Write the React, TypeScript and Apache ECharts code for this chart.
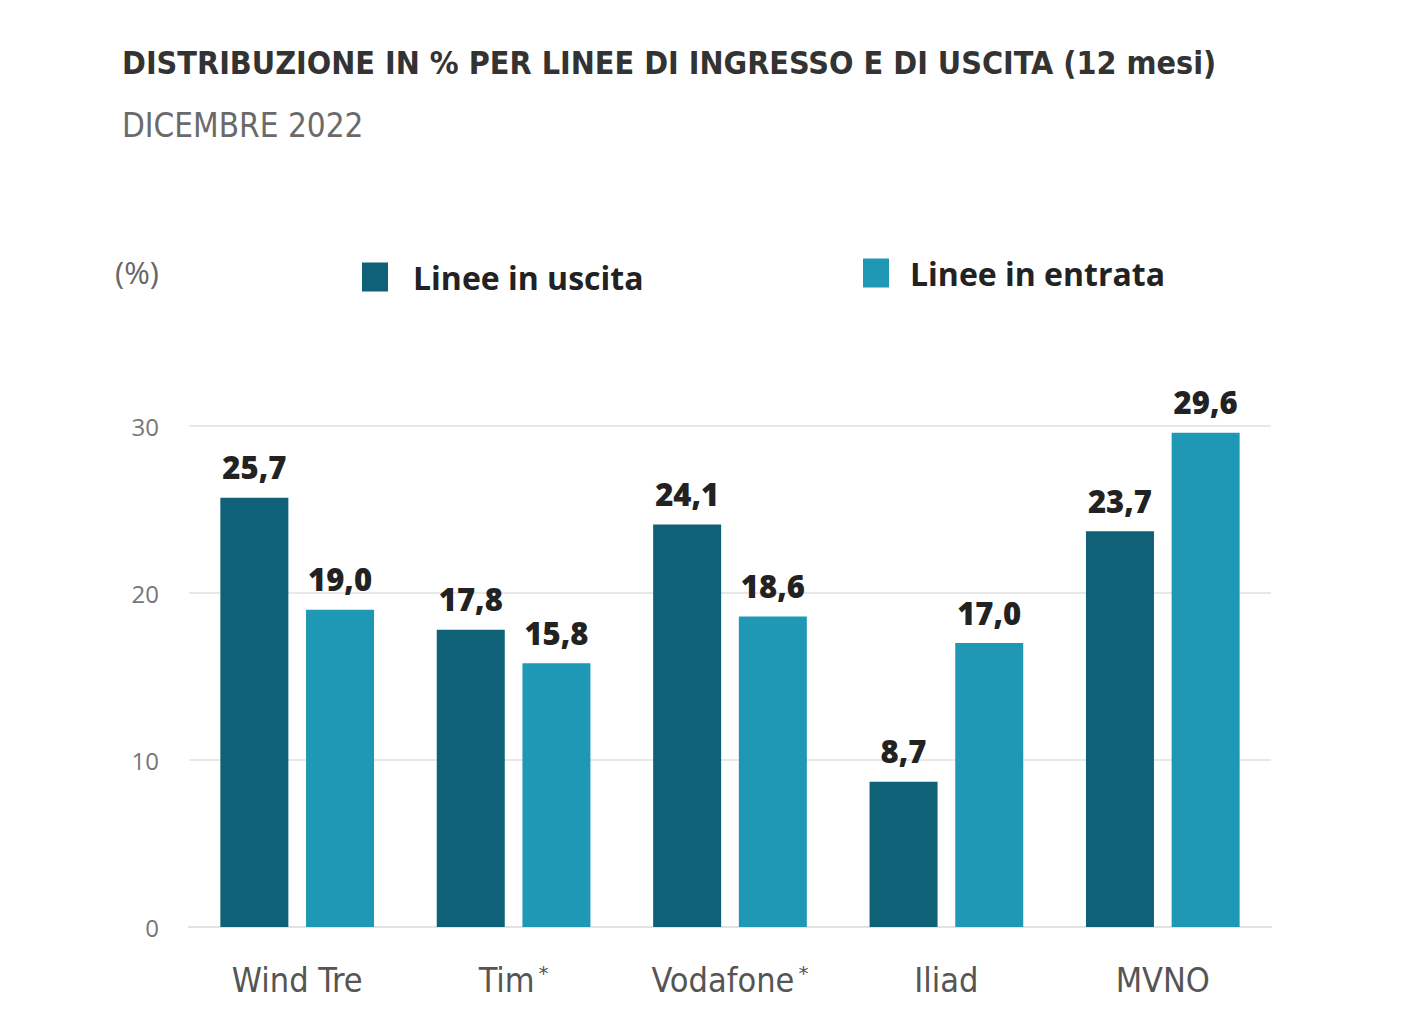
import React, { useEffect, useRef } from "react";
import * as echarts from "echarts";

const categories = ["Wind Tre", "Tim", "Vodafone", "Iliad", "MVNO"];
const starred = [false, true, true, false, false];
const uscita = [25.7, 17.8, 24.1, 8.7, 23.7];
const entrata = [19.0, 15.8, 18.6, 17.0, 29.6];
const seriesNames = ["Linee in uscita", "Linee in entrata"];
const yTicks = [0, 10, 20, 30];

const DARK = "#0e6177";
const LIGHT = "#1f98b6";
const fmt = (v: number) => v.toFixed(1).replace(".", ",");

export default function App() {
  const ref = useRef<HTMLDivElement>(null);
  useEffect(() => {
    const chart = echarts.init(ref.current!, null, { renderer: "svg" });
    const labelCommon = {
      show: true,
      position: "top" as const,
      distance: 15,
      fontFamily: "Open Sans",
      fontWeight: 800 as any,
      fontSize: 31,
      color: "#222",
      formatter: (p: any) => fmt(p.value),
    };
    chart.setOption({
      animation: false,
      backgroundColor: "#fff",
      graphic: [
        {
          type: "text",
          left: 122,
          top: 47,
          style: {
            text: "DISTRIBUZIONE IN % PER LINEE DI INGRESSO E DI USCITA (12 mesi)",
            fontFamily: "DejaVu Sans Condensed",
            fontWeight: "bold",
            fontSize: 32,
            fill: "#333",
          },
        },
        {
          type: "text",
          left: 122,
          top: 109,
          style: {
            text: "DICEMBRE 2022",
            fontFamily: "DejaVu Sans Condensed",
            fontWeight: "normal",
            fontSize: 33,
            fill: "#6a6a6a",
          },
        },
        {
          type: "text",
          left: 115,
          top: 256,
          style: {
            text: "(%)",
            fontFamily: "Open Sans",
            fontSize: 31,
            fill: "#666",
          },
        },
      ],
      legend: [
        {
          data: [seriesNames[0]],
          left: 362,
          top: 261,
          padding: 0,
          icon: "rect",
          itemWidth: 26,
          itemHeight: 29,
          textStyle: {
            fontFamily: "Open Sans",
            fontWeight: "bold",
            fontSize: 32,
            color: "#222",
            padding: [0, 0, 0, 20],
          },
        },
        {
          data: [seriesNames[1]],
          left: 863,
          top: 257,
          padding: 0,
          icon: "rect",
          itemWidth: 26,
          itemHeight: 29,
          textStyle: {
            fontFamily: "Open Sans",
            fontWeight: "bold",
            fontSize: 32,
            color: "#222",
            padding: [0, 0, 0, 16],
          },
        },
      ],
      grid: { left: 189, right: 139, top: 426, bottom: 107 },
      xAxis: {
        type: "category",
        data: categories,
        axisTick: { show: false },
        axisLine: { lineStyle: { color: "#e2e2e2", width: 2 } },
        axisLabel: {
          margin: 36,
          formatter: (v: string) => {
            const i = categories.indexOf(v);
            return starred[i] ? `{a|${v}}{s|*}` : `{a|${v}}`;
          },
          rich: {
            a: { fontFamily: "DejaVu Sans Condensed", fontSize: 34, color: "#555" },
            s: { fontFamily: "DejaVu Sans", fontSize: 20, color: "#555", verticalAlign: "top", padding: [0, 0, 14, 4] },
          },
        },
      },
      yAxis: {
        type: "value",
        min: yTicks[0],
        max: yTicks[yTicks.length - 1],
        interval: 10,
        axisLine: { show: false },
        axisTick: { show: false },
        splitLine: { lineStyle: { color: "#e8e8e8", width: 2 } },
        axisLabel: {
          margin: 30,
          fontFamily: "Open Sans",
          fontSize: 24,
          color: "#777",
        },
      },
      series: [
        {
          name: seriesNames[0],
          type: "bar",
          data: uscita,
          barWidth: 68,
          barGap: "26%",
          itemStyle: { color: DARK },
          label: labelCommon,
        },
        {
          name: seriesNames[1],
          type: "bar",
          data: entrata,
          barWidth: 68,
          barGap: "26%",
          itemStyle: { color: LIGHT },
          label: labelCommon,
        },
      ],
    });
    return () => chart.dispose();
  }, []);
  return <div ref={ref} style={{ width: 1410, height: 1034, position: "absolute", left: 0, top: 0 }} />;
}
